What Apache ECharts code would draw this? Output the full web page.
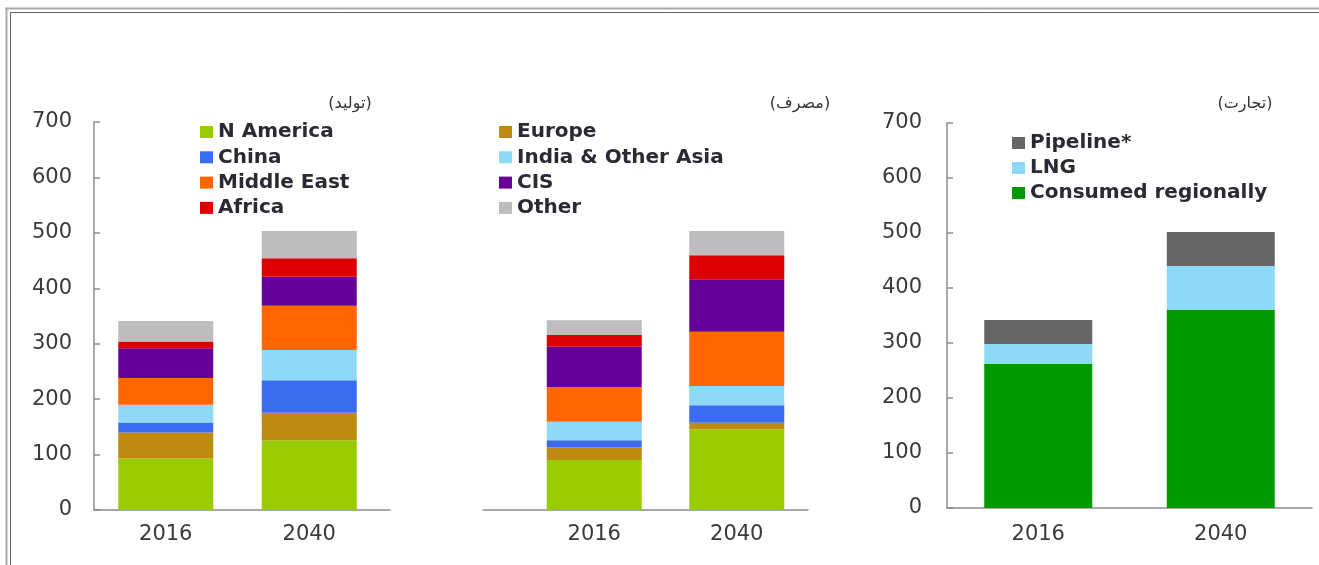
<!DOCTYPE html>
<html>
<head>
<meta charset="utf-8">
<script src="https://cdn.jsdelivr.net/npm/echarts@6/dist/echarts.min.js"></script>
<style>
html,body{margin:0;padding:0;background:#fff;}
#chart{width:1319px;height:565px;}
</style>
</head>
<body>
<div id="chart"></div>
<script>
// ---- data ----
var categories = ['2016', '2040'];
var yTicks = [0, 100, 200, 300, 400, 500, 600, 700];

var panelTitles = ['(تولید)', '(مصرف)', '(تجارت)'];

var regionNames = ['N America', 'Europe', 'China', 'India & Other Asia', 'Middle East', 'CIS', 'Africa', 'Other'];

// production (تولید)
var prodNAmerica   = [93, 126];
var prodEurope     = [47, 49.5];
var prodChina      = [18, 58.5];
var prodIndiaAsia  = [32, 54.5];
var prodMiddleEast = [48, 80];
var prodCIS        = [54, 52.5];
var prodAfrica     = [12, 33];
var prodOther      = [37, 49.5];

// consumption (مصرف)
var consNAmerica   = [90, 145.5];
var consEurope     = [23, 12];
var consChina      = [13, 31.5];
var consIndiaAsia  = [33, 34.5];
var consMiddleEast = [63, 98];
var consCIS        = [72.5, 95];
var consAfrica     = [21, 43];
var consOther      = [27, 44];

// trade (تجارت)
var tradeNames = ['Consumed regionally', 'LNG', 'Pipeline*'];
var tradeConsumed = [262, 360];
var tradeLNG      = [36, 80];
var tradePipeline = [44, 62];

// ---- styling ----
var regionColors = ['#99cc00', '#c08a10', '#3a6cf0', '#8cdaf6', '#ff6600', '#660099', '#dd0000', '#bdbdbd'];
var tradeColors = ['#009900', '#8cdaf6', '#666666'];

var prodData = [prodNAmerica, prodEurope, prodChina, prodIndiaAsia, prodMiddleEast, prodCIS, prodAfrica, prodOther];
var consData = [consNAmerica, consEurope, consChina, consIndiaAsia, consMiddleEast, consCIS, consAfrica, consOther];
var tradeData = [tradeConsumed, tradeLNG, tradePipeline];

var FONT = 'DejaVu Sans';
var axisColor = '#8c8c8c';
var labelColor = '#3a3a3a';

var series = [];
regionNames.forEach(function (n, i) {
  series.push({
    name: n, type: 'bar', stack: 'prod', xAxisIndex: 0, yAxisIndex: 0,
    barWidth: 95, data: prodData[i], itemStyle: { color: regionColors[i] }
  });
});
regionNames.forEach(function (n, i) {
  series.push({
    name: n, type: 'bar', stack: 'cons', xAxisIndex: 1, yAxisIndex: 1,
    barWidth: 95, data: consData[i], itemStyle: { color: regionColors[i] }
  });
});
tradeNames.forEach(function (n, i) {
  series.push({
    name: n, type: 'bar', stack: 'trade', xAxisIndex: 2, yAxisIndex: 2,
    barWidth: 108, data: tradeData[i], itemStyle: { color: tradeColors[i] }
  });
});

function valueAxis(grid, show, margin) {
  return {
    type: 'value', gridIndex: grid, min: 0, max: 700, interval: 100, show: show,
    splitLine: { show: false },
    axisLine: { show: true, lineStyle: { color: axisColor, width: 1.5 } },
    axisTick: { show: true, inside: true, length: 6, lineStyle: { color: axisColor, width: 1.5 } },
    axisLabel: { color: labelColor, fontFamily: FONT, fontSize: 21, margin: margin,
      formatter: function (v) { return yTicks.indexOf(v) >= 0 ? String(v) : ''; } }
  };
}
function catAxis(grid, margin) {
  return {
    type: 'category', gridIndex: grid, data: categories,
    axisLine: { show: false }, axisTick: { show: false },
    axisLabel: { color: labelColor, fontFamily: FONT, fontSize: 21, margin: margin }
  };
}
function lineAxis(grid) {
  return {
    type: 'category', gridIndex: grid, data: [''],
    axisLine: { show: true, lineStyle: { color: axisColor, width: 1.5 } },
    axisTick: { show: false }, axisLabel: { show: false }
  };
}
function hiddenY(grid) {
  return { type: 'value', gridIndex: grid, min: 0, max: 700, show: false };
}

var legendText = { fontFamily: FONT, fontSize: 20, fontWeight: 'bold', color: '#2a2a35', lineHeight: 20 };
var titleText = { fontFamily: FONT, fontSize: 16, fontWeight: 'normal', color: '#333' };

var option = {
  animation: false,
  backgroundColor: '#fff',
  title: [
    { text: panelTitles[0], left: 345, top: 91, textAlign: 'center', textStyle: titleText },
    { text: panelTitles[1], left: 795, top: 91, textAlign: 'center', textStyle: titleText },
    { text: panelTitles[2], left: 1240, top: 91, textAlign: 'center', textStyle: titleText }
  ],
  legend: [
    { data: ['N America', 'China', 'Middle East', 'Africa'], orient: 'vertical', left: 200, top: 122, padding: 0,
      itemWidth: 13, itemHeight: 12, itemGap: 5.3, icon: 'rect', textStyle: legendText, selectedMode: false },
    { data: ['Europe', 'India & Other Asia', 'CIS', 'Other'], orient: 'vertical', left: 499, top: 122, padding: 0,
      itemWidth: 13, itemHeight: 12, itemGap: 5.3, icon: 'rect', textStyle: legendText, selectedMode: false },
    { data: ['Pipeline*', 'LNG', 'Consumed regionally'], orient: 'vertical', left: 1012, top: 133, padding: 0,
      itemWidth: 13, itemHeight: 12, itemGap: 5, icon: 'rect', textStyle: legendText, selectedMode: false }
  ],
  grid: [
    { left: 94, top: 122, width: 287, height: 388 },
    { left: 523, top: 122, width: 285, height: 388 },
    { left: 947, top: 123, width: 365, height: 385 },
    { left: 94, top: 122, width: 296, height: 388 },
    { left: 483, top: 122, width: 325, height: 388 },
    { left: 947, top: 123, width: 365, height: 385 }
  ],
  xAxis: [catAxis(0, 14), catAxis(1, 14), catAxis(2, 16), lineAxis(3), lineAxis(4), lineAxis(5)],
  yAxis: [valueAxis(0, true, 22), valueAxis(1, false, 22), valueAxis(2, true, 25), hiddenY(3), hiddenY(4), hiddenY(5)],
  series: series,
  graphic: [
    { type: 'line', silent: true, shape: { x1: 5, y1: 8.5, x2: 1319, y2: 8.5 }, style: { stroke: '#aaaaaa', lineWidth: 2 } },
    { type: 'line', silent: true, shape: { x1: 6.5, y1: 8, x2: 6.5, y2: 565 }, style: { stroke: '#aaaaaa', lineWidth: 2 } },
    { type: 'line', silent: true, shape: { x1: 10, y1: 12.5, x2: 1319, y2: 12.5 }, style: { stroke: '#666666', lineWidth: 1 } },
    { type: 'line', silent: true, shape: { x1: 10.5, y1: 12, x2: 10.5, y2: 565 }, style: { stroke: '#666666', lineWidth: 1 } }
  ]
};

var chart = echarts.init(document.getElementById('chart'), null, { renderer: 'canvas' });
chart.setOption(option);
</script>
</body>
</html>
